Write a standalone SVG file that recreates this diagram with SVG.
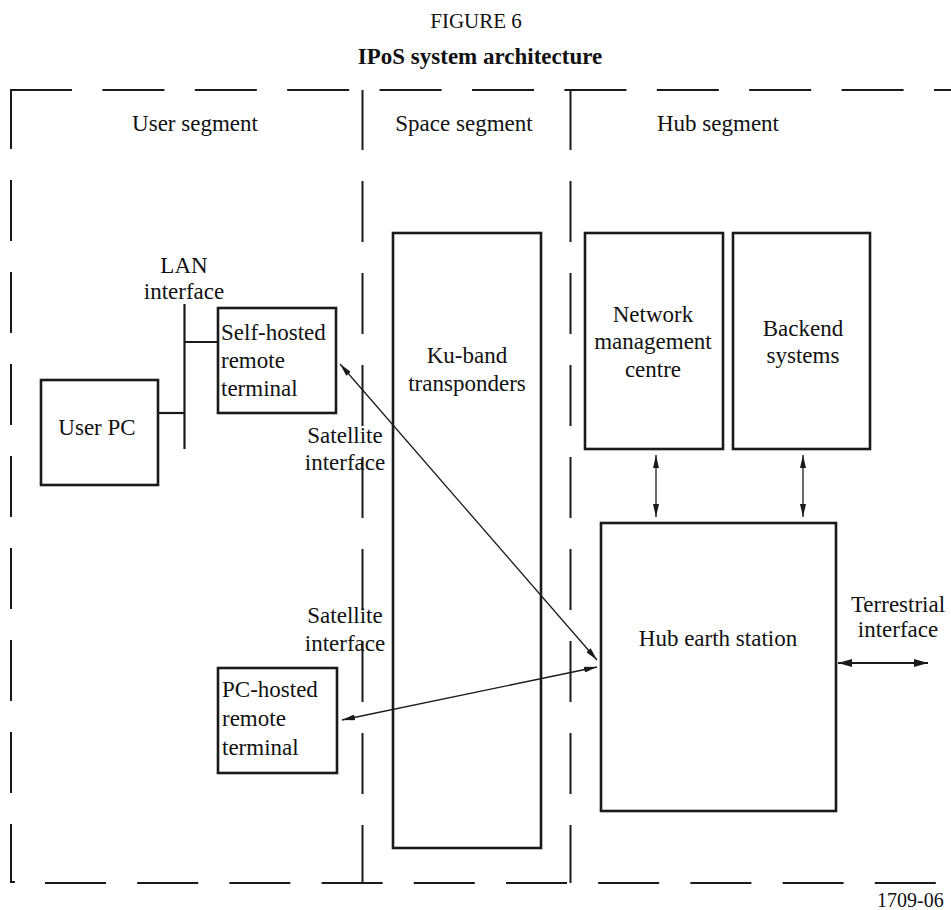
<svg xmlns="http://www.w3.org/2000/svg" width="951" height="910" viewBox="0 0 951 910">
<style>
text{font-family:"Liberation Serif","Times New Roman",serif;font-size:23px;fill:#111}
.c{text-anchor:middle}
.box{fill:none;stroke:#1a1a1a;stroke-width:2.6}
.dash{fill:none;stroke:#1a1a1a;stroke-width:2}
.bus{fill:none;stroke:#1a1a1a;stroke-width:2.2}
.arr{fill:none;stroke:#1a1a1a;stroke-width:1.3;marker-start:url(#ah);marker-end:url(#ah)}
.arrT{fill:none;stroke:#1a1a1a;stroke-width:2;marker-start:url(#ahb);marker-end:url(#ahb)}
</style>
<defs>
<marker id="ah" viewBox="0 0 13 6" refX="13" refY="3" markerWidth="13" markerHeight="6" orient="auto-start-reverse" markerUnits="userSpaceOnUse"><path d="M0,0 L13,3 L0,6 z" fill="#1a1a1a"/></marker>
<marker id="ahb" viewBox="0 0 14 8" refX="14" refY="4" markerWidth="14" markerHeight="8" orient="auto-start-reverse" markerUnits="userSpaceOnUse"><path d="M0,0 L14,4 L0,8 z" fill="#1a1a1a"/></marker>
</defs>
<rect width="951" height="910" fill="#fff"/>
<g id="title">
<text class="c" x="476" y="28" style="font-size:21px">FIGURE 6</text>
<text class="c" x="480" y="64" style="font-weight:bold">IPoS system architecture</text>
</g>
<g id="boundaries">
<line class="dash" x1="10" y1="90" x2="951" y2="90" stroke-dasharray="62 30.4"/>
<line class="dash" x1="45" y1="883" x2="936" y2="883" stroke-dasharray="61 31.2"/>
<line class="dash" x1="11" y1="90" x2="11" y2="883" stroke-dasharray="61 31" stroke-dashoffset="2"/>
<path class="dash" d="M11,882 L15,882"/>
<line class="dash" x1="362.5" y1="90" x2="362.5" y2="883" stroke-dasharray="61 31" stroke-dashoffset="1"/>
<line class="dash" x1="570.5" y1="90" x2="570.5" y2="883" stroke-dasharray="61 31" stroke-dashoffset="1"/>
<text class="c" x="195" y="131">User segment</text>
<text class="c" x="464" y="131">Space segment</text>
<text class="c" x="718" y="131">Hub segment</text>
</g>
<g id="user-pc">
<rect class="box" x="41" y="380" width="117" height="105"/>
<text class="c" x="97" y="435">User PC</text>
</g>
<g id="self-hosted">
<rect class="box" x="218" y="308" width="118" height="105"/>
<text x="221" y="340">Self-hosted</text>
<text x="221" y="368">remote</text>
<text x="221" y="396">terminal</text>
</g>
<g id="pc-hosted">
<rect class="box" x="218" y="668" width="119" height="105"/>
<text x="222" y="697">PC-hosted</text>
<text x="222" y="726">remote</text>
<text x="222" y="755">terminal</text>
</g>
<g id="ku-band">
<rect class="box" x="393" y="233" width="148" height="615"/>
<text class="c" x="467" y="363">Ku-band</text>
<text class="c" x="467" y="391">transponders</text>
</g>
<g id="nmc">
<rect class="box" x="585" y="233" width="138" height="216"/>
<text class="c" x="653" y="322">Network</text>
<text class="c" x="653" y="349">management</text>
<text class="c" x="653" y="377">centre</text>
</g>
<g id="backend">
<rect class="box" x="733" y="233" width="137" height="216"/>
<text class="c" x="803" y="336">Backend</text>
<text class="c" x="803" y="363">systems</text>
</g>
<g id="hub">
<rect class="box" x="601" y="523" width="235" height="288"/>
<text class="c" x="718" y="646">Hub earth station</text>
</g>
<g id="labels">
<text class="c" x="184" y="273">LAN</text>
<text class="c" x="184" y="299">interface</text>
<text class="c" x="345" y="443">Satellite</text>
<text class="c" x="345" y="470">interface</text>
<text class="c" x="345" y="623">Satellite</text>
<text class="c" x="345" y="651">interface</text>
<text class="c" x="898" y="612">Terrestrial</text>
<text class="c" x="898" y="637">interface</text>
<text x="877" y="907" style="font-size:20px">1709-06</text>
</g>
<g id="connectors">
<line class="bus" x1="184.5" y1="304" x2="184.5" y2="449"/>
<line class="bus" x1="158" y1="413" x2="184.5" y2="413"/>
<line class="bus" x1="184.5" y1="342" x2="218" y2="342"/>
<line class="arr" x1="656" y1="455" x2="656" y2="517"/>
<line class="arr" x1="803" y1="455" x2="803" y2="517"/>
<line class="arr" x1="340" y1="364" x2="597" y2="660"/>
<line class="arr" x1="342" y1="720" x2="597" y2="667"/>
<line class="arrT" x1="838" y1="663" x2="928" y2="663"/>
</g>
</svg>
